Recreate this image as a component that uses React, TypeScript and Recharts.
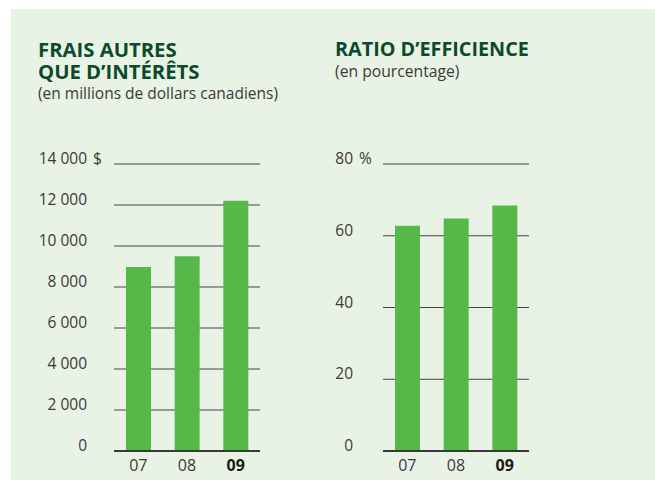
import React from 'react';
import { BarChart, Bar, XAxis, YAxis, CartesianGrid } from 'recharts';

const years = ['07', '08', '09'];
const fraisValues = [8975, 9502, 12211];
const ratioValues = [62.8, 64.8, 68.4];
const fraisTicks = [0, 2000, 4000, 6000, 8000, 10000, 12000, 14000];
const ratioTicks = [0, 20, 40, 60, 80];

const BAR = '#57b84a';
const BG = '#e8f3e6';
const TITLE = '#0b4a2b';
const TEXT = '#3a3a3a';
const FONT = '"Open Sans", sans-serif';

const fmtThousands = (v: number) => String(v).replace(/\B(?=(\d{3})+(?!\d))/g, ' ');

const makeYTick = (labelX: number, top: number, unit: string, fmt: (v: number) => string) => (props: any) => {
  const { y, payload } = props;
  return (
    <g>
      <text x={labelX} y={y} textAnchor="end" fontSize={15.5} fill={TEXT} fontFamily={FONT}>
        {fmt(payload.value)}
      </text>
      {payload.value === top && (
        <text x={labelX + 6} y={y} textAnchor="start" fontSize={15.5} fill={TEXT} fontFamily={FONT}>
          {unit}
        </text>
      )}
    </g>
  );
};

const XTick = (props: any) => {
  const { x, y, payload } = props;
  const last = payload.value === years[years.length - 1];
  return (
    <text x={x} y={y + 12} textAnchor="middle" fontSize={16} fill={last ? '#1a1a1a' : TEXT}
      fontWeight={last ? 700 : 400} fontFamily={FONT}>
      {payload.value}
    </text>
  );
};

const fraisData = years.map((y, i) => ({ year: y, value: fraisValues[i] }));
const ratioData = years.map((y, i) => ({ year: y, value: ratioValues[i] }));

const App: React.FC = () => {
  return (
    <div style={{ position: 'absolute', left: 0, top: 0, width: 655, height: 489, background: '#fff' }}>
      <div style={{ position: 'absolute', left: 11, top: 9, width: 644, height: 471, background: BG }} />
      <svg width={655} height={489} style={{ position: 'absolute', left: 0, top: 0 }}>
        <g fontFamily={FONT}>
          {/* left heading: two bold lines plus unit note */}
          <text x={38} y={57} fontSize={20.3} fontWeight={700} fill={TITLE}>
            <tspan x={38} y={57}>FRAIS AUTRES</tspan>
            <tspan x={38} y={79}>QUE D’INTÉRÊTS</tspan>
            <tspan x={38} y={99} fontSize={15.5} fontWeight={400} fill={TEXT}>(en millions de dollars canadiens)</tspan>
          </text>
          <text x={335} y={56} fontSize={19.8} fontWeight={700} fill={TITLE}>
            <tspan x={335} y={56}>RATIO D’EFFICIENCE</tspan>
            <tspan x={335} y={77} fontSize={15.7} fontWeight={400} fill={TEXT}>(en pourcentage)</tspan>
          </text>
        </g>
      </svg>

      <div style={{ position: 'absolute', left: 0, top: 130 }}>
        <BarChart width={280} height={351} data={fraisData} margin={{ top: 34, right: 20, bottom: 0, left: 0 }}>
          <CartesianGrid vertical={false} stroke="#444" strokeWidth={1} />
          <XAxis dataKey="year" height={30} tickLine={false} axisLine={{ stroke: '#1a1a1a', strokeWidth: 1.5 }}
            tick={<XTick />} interval={0} />
          <YAxis width={114} domain={[0, 14000]} ticks={fraisTicks} axisLine={false} tickLine={false}
            tick={makeYTick(87, 14000, '$', fmtThousands)} interval={0} />
          <Bar dataKey="value" fill={BAR} barSize={25} isAnimationActive={false} />
        </BarChart>
      </div>

      <div style={{ position: 'absolute', left: 270, top: 130 }}>
        <BarChart width={280} height={351} data={ratioData} margin={{ top: 34, right: 21, bottom: 0, left: 0 }}>
          <CartesianGrid vertical={false} stroke="#444" strokeWidth={1} />
          <XAxis dataKey="year" height={30} tickLine={false} axisLine={{ stroke: '#1a1a1a', strokeWidth: 1.5 }}
            tick={<XTick />} interval={0} />
          <YAxis width={113} domain={[0, 80]} ticks={ratioTicks} axisLine={false} tickLine={false}
            tick={makeYTick(83, 80, '%', (v) => String(v))} interval={0} />
          <Bar dataKey="value" fill={BAR} barSize={25} isAnimationActive={false} />
        </BarChart>
      </div>
    </div>
  );
};

export default App;
